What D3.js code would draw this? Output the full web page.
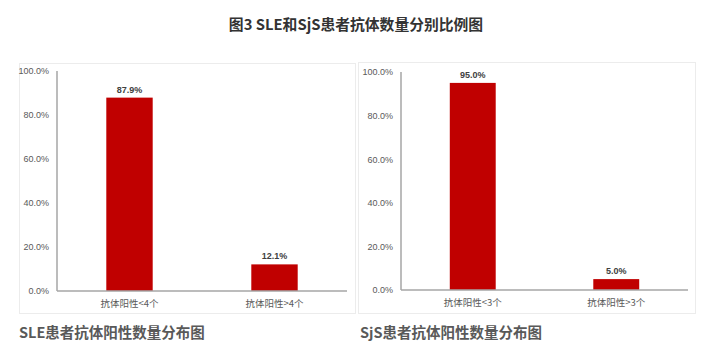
<!DOCTYPE html>
<html>
<head>
<meta charset="utf-8">
<script src="https://cdn.jsdelivr.net/npm/d3@7"></script>
<style>
  body { margin: 0; background: #fff; }
  text { font-family: "Noto Sans CJK SC", "Noto Sans", sans-serif; }
</style>
</head>
<body>
<svg width="704" height="351"></svg>
<script>
var mainTitle = "图3 SLE和SjS患者抗体数量分别比例图";

var sleCategories = [ "抗体阳性<4个", "抗体阳性>4个" ],
  sleValues = [ 0.879, 0.121 ],
  sleTitle = "SLE患者抗体阳性数量分布图";

var sjsCategories = [ "抗体阳性<3个", "抗体阳性>3个" ],
  sjsValues = [ 0.950, 0.050 ],
  sjsTitle = "SjS患者抗体阳性数量分布图";

var yTicks = [ 0, 0.2, 0.4, 0.6, 0.8, 1.0 ];

var svg = d3.select( "svg" );
var pct = d3.format( ".1%" );

svg.append( "text" )
  .attr( "x", 356 )
  .attr( "y", 30 )
  .attr( "text-anchor", "middle" )
  .attr( "fill", "#333" )
  .style( "font-size", "14.8px" )
  .style( "font-weight", "bold" )
  .text( mainTitle );

function drawPanel( opts ) {

  // faint frame
  svg.append( "rect" )
    .attr( "x", opts.frame[ 0 ] + 0.5 )
    .attr( "y", opts.frame[ 1 ] + 0.5 )
    .attr( "width", opts.frame[ 2 ] )
    .attr( "height", opts.frame[ 3 ] )
    .attr( "fill", "#fff" )
    .attr( "stroke", "#ececec" );

  var x = d3.scaleBand()
    .domain( opts.categories )
    .range( [ opts.x0, opts.x1 ] )
    .paddingInner( 0.68 )
    .paddingOuter( 0.34 );

  var y = d3.scaleLinear()
    .domain( [ 0, 1 ] )
    .range( [ opts.y0, opts.y1 ] );

  var g = svg.append( "g" );

  // y axis labels
  var yAxis = d3.axisLeft( y )
    .tickValues( yTicks )
    .tickFormat( pct )
    .tickSize( 0 )
    .tickPadding( 8 );

  var ya = g.append( "g" )
    .attr( "transform", "translate(" + opts.x0 + ",0)" )
    .call( yAxis );
  ya.select( ".domain" ).remove();
  ya.selectAll( "text" )
    .attr( "fill", "#595959" )
    .style( "font-family", "'Liberation Sans', sans-serif" )
    .style( "font-size", "9px" );

  // bars
  g.selectAll( "rect.bar" )
    .data( opts.values )
    .enter().append( "rect" )
      .attr( "class", "bar" )
      .attr( "x", ( d, i ) => x( opts.categories[ i ] ) )
      .attr( "y", d => y( d ) )
      .attr( "width", x.bandwidth() )
      .attr( "height", d => y( 0 ) - y( d ) )
      .attr( "fill", "#c00000" );

  // value labels
  g.selectAll( "text.val" )
    .data( opts.values )
    .enter().append( "text" )
      .attr( "class", "val" )
      .attr( "x", ( d, i ) => x( opts.categories[ i ] ) + x.bandwidth() / 2 )
      .attr( "y", d => y( d ) - 5 )
      .attr( "text-anchor", "middle" )
      .attr( "fill", "#404040" )
      .style( "font-family", "'Liberation Sans', sans-serif" )
      .style( "font-size", "9px" )
      .style( "font-weight", "bold" )
      .text( d => pct( d ) );

  // axis lines
  g.append( "line" )
    .attr( "x1", opts.x0 ).attr( "x2", opts.x0 )
    .attr( "y1", opts.y1 ).attr( "y2", opts.y0 )
    .attr( "stroke", "#a6a6a6" )
    .attr( "stroke-width", 1.5 );

  g.append( "line" )
    .attr( "x1", opts.x0 ).attr( "x2", opts.x1 )
    .attr( "y1", opts.y0 ).attr( "y2", opts.y0 )
    .attr( "stroke", "#a6a6a6" )
    .attr( "stroke-width", 1.5 );

  // category labels
  var xAxis = d3.axisBottom( x ).tickSize( 0 ).tickPadding( 9 );
  var xa = g.append( "g" )
    .attr( "transform", "translate(0," + opts.y0 + ")" )
    .call( xAxis );
  xa.select( ".domain" ).remove();
  xa.selectAll( "text" )
    .attr( "fill", "#595959" )
    .style( "font-size", "9.5px" );

  // panel title
  svg.append( "text" )
    .attr( "x", opts.titleX )
    .attr( "y", 338 )
    .attr( "fill", "#595959" )
    .style( "font-size", "14.5px" )
    .style( "font-weight", "bold" )
    .text( opts.title );

}

drawPanel( {
  frame: [ 19, 63, 336, 250 ],
  categories: sleCategories,
  values: sleValues,
  title: sleTitle,
  titleX: 19,
  x0: 57, x1: 347,
  y0: 291, y1: 71
} );

drawPanel( {
  frame: [ 358, 62, 337, 251 ],
  categories: sjsCategories,
  values: sjsValues,
  title: sjsTitle,
  titleX: 360,
  x0: 401, x1: 688,
  y0: 290, y1: 72
} );
</script>
</body>
</html>
